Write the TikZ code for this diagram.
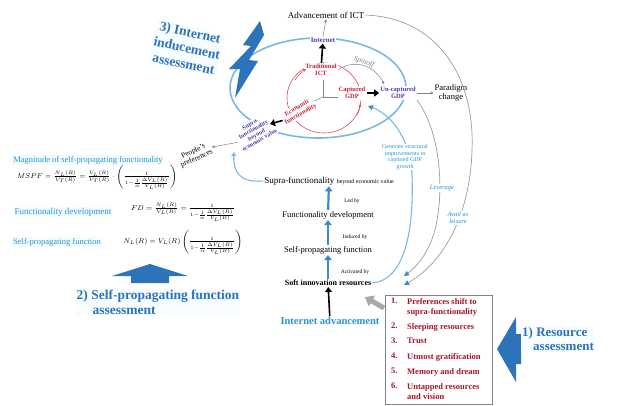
\documentclass[tikz,border=0pt]{standalone}
\usepackage{fontspec}
\setmainfont{Liberation Serif}
\usetikzlibrary{arrows.meta,calc}
\definecolor{purp}{RGB}{75,60,170}
\definecolor{redtxt}{RGB}{205,30,50}
\definecolor{darkred}{RGB}{165,20,40}
\definecolor{lblue}{RGB}{35,150,215}
\definecolor{arrblue}{RGB}{60,140,205}
\definecolor{headblue}{RGB}{45,115,185}
\definecolor{ringblue}{RGB}{120,185,228}
\definecolor{graycol}{RGB}{130,130,130}
\begin{document}
\begin{tikzpicture}[x=1pt,y=-1pt,
  every node/.style={inner sep=1pt},
  lbl/.style={font=\fontsize{8.5}{9.5}\selectfont},
  tiny/.style={font=\fontsize{5.5}{6.5}\selectfont},
  purpl/.style={text=purp,font=\fontsize{6.5}{7}\selectfont\bfseries,fill=white,align=center},
  redl/.style={text=redtxt,font=\fontsize{6.5}{7}\selectfont\bfseries,fill=white,align=center},
  bluel/.style={text=lblue,font=\fontsize{6}{6.5}\selectfont,fill=white,align=center},
  leftl/.style={text=lblue,font=\fontsize{8.5}{9}\selectfont,fill=cyan!4},
  formula/.style={font=\fontsize{7.3}{8}\selectfont},
  biglbl/.style={text=headblue,font=\fontsize{13}{14}\selectfont\bfseries,fill=cyan!3,align=left},
  resitem/.style={text=darkred,font=\fontsize{8.5}{10}\selectfont\bfseries,align=left,anchor=north west,inner sep=0pt},
  upblue/.style={draw=arrblue,line width=2.2pt,-{Triangle[length=5pt,width=7.5pt]}},
  blackbold/.style={draw=black,line width=1.6pt,-{Triangle[length=5pt,width=7pt]}},
  thingray/.style={draw=graycol,line width=0.5pt,-{Stealth[length=3pt,width=3pt]}},
  arcgray/.style={draw=graycol!80,line width=0.7pt},
  arcblue/.style={draw=ringblue,line width=1.1pt},
  redring/.style={draw=redtxt!80,line width=0.6pt},
  bluetip/.style={-{Triangle[length=5pt,width=5pt,color=arrblue]}},
  blocksh/.style={fill=headblue,draw=none}
]
\useasboundingbox (0,0) rectangle (619,405);

% ---------- outer ring (drawn first, labels sit on top) ----------
\draw[ringblue,line width=1.6pt] (318,88) ellipse [x radius=88, y radius=50];

\node[lbl,font=\fontsize{9}{10}\selectfont] (adv) at (326,15) {Advancement of ICT};
\node[lbl,align=center] (para) at (451,93) {Paradigm\\change};

% red cycle of the captured economy
\draw[redring] (324,98) ellipse [x radius=37, y radius=35];
\draw[graycol,line width=0.5pt] (323,80) -- (323,97) -- (341,97);
\draw[graycol,line width=0.5pt] (323,97) -- (308,104);

\node[purpl,font=\fontsize{7}{7.5}\selectfont\bfseries] (inet) at (323,40) {Internet};
\node[redl] (ict) at (321,70) {Traditional\\ICT};
\node[redl] (cap) at (352,93) {Captured\\GDP};
\node[redl,rotate=30] (econ) at (299,111) {Economic\\functionality};
\node[purpl] (uncap) at (398,93) {Un-captured\\GDP};
\node[purpl,rotate=30,font=\fontsize{6}{6.2}\selectfont\bfseries] (suprarot) at (255,132) {Supra-\\functionality\\beyond\\economic value};
\node[lbl,rotate=25,align=center,font=\fontsize{7.5}{8}\selectfont] (people) at (195,155) {People's\\preferences};
\node[text=graycol,rotate=-20,font=\fontsize{7.5}{8}\selectfont\itshape] (spin) at (364,62) {Spinoff};

% red arrowheads on the cycle
\draw[redring,-{Stealth[length=3pt,width=3pt]}] (295,80) .. controls (299,74) and (303,71) .. (306,69);
\draw[redring,-{Stealth[length=3pt,width=3pt]}] (357,115) .. controls (359,111) and (360,107) .. (360,104);

% arrows around the core
\coordinate (suprain) at (270,124);
\draw[blackbold] (ict) -- (inet);
\draw[blackbold] (cap.east) -- (uncap.west);
\draw[blackbold] (econ.west) -- (suprain);
\draw[thingray] (inet.north) -- (adv.south);
\draw[thingray] (uncap.east) -- (para.west);
\draw[thingray] (suprarot.west) -- (people.east);
\coordinate (spinend) at (384,84);
\draw[thingray] (ict.east) .. controls (355,58) and (375,66) .. (spinend);

% ---------- central chain ----------
\node (supra) at (329,181) {{\fontsize{9}{10}\selectfont Supra-functionality} {\fontsize{6}{7}\selectfont beyond economic value}};
\node[lbl] (func) at (328,215) {Functionality development};
\node[lbl] (self) at (328,250) {Self-propagating function};
\node[lbl,font=\fontsize{8}{9}\selectfont\bfseries] (soft) at (328,283) {Soft innovation resources};
\node[text=lblue,font=\fontsize{10.5}{11}\selectfont\bfseries] (iadv) at (330,321) {Internet advancement};

\draw[upblue] (func) -- (supra);
\draw[upblue] (self) -- (func);
\draw[upblue] (soft) -- (self);
\draw[blackbold] (iadv) -- (soft);
\node[tiny] (ledby) at (352,201) {Led by};
\node[tiny] (indby) at (355,237) {Induced by};
\node[tiny] (actby) at (355,272) {Activated by};

% feedback from supra-functionality to the people's side
\coordinate (supraend) at (234,152);
\draw[arcblue,-{Triangle[length=4pt,width=5pt]}] (supra.west) .. controls (240,183) and (233,172) .. (supraend);

% ---------- right arcs back to the resources ----------
\coordinate (capin) at (368,106);
\draw[arcblue,bluetip] (soft.east) .. controls (405,280) and (414,230) .. (412,175) .. controls (410,135) and (388,113) .. (capin);
\node[bluel] (gen) at (405,157) {Generate structural\\improvements in\\captured GDP\\growth};

\coordinate (lev) at (404,276);
\coordinate (leis) at (404,285);
\draw[arcgray,bluetip] (uncap.south east) .. controls (440,130) and (445,190) .. (435,230) .. controls (428,255) and (415,268) .. (lev);
\draw[arcgray,bluetip] (adv.east) .. controls (440,18) and (475,80) .. (472,150) .. controls (470,220) and (440,265) .. (leis);
\node[bluel,font=\fontsize{6.5}{7}\selectfont\itshape] (levlbl) at (442,188) {Leverage};
\node[bluel,font=\fontsize{6.5}{7}\selectfont\itshape] (leislbl) at (458,218) {Avail as\\leisure};

% ---------- resource list ----------
\node[draw=graycol,line width=1.2pt,minimum width=107pt,minimum height=109pt,anchor=north west] (res) at (385,295) {};
\node[resitem] (n1) at (391,298) {1.};
\node[resitem] (r1) at (407,298) {Preferences shift to\\supra-functionality};
\node[resitem] (n2) at (391,323) {2.};
\node[resitem] (r2) at (407,323) {Sleeping resources};
\node[resitem] (n3) at (391,338) {3.};
\node[resitem] (r3) at (407,338) {Trust};
\node[resitem] (n4) at (391,353) {4.};
\node[resitem] (r4) at (407,353) {Utmost gratification};
\node[resitem] (n5) at (391,368) {5.};
\node[resitem] (r5) at (407,368) {Memory and dream};
\node[resitem] (n6) at (391,383) {6.};
\node[resitem] (r6) at (407,383) {Untapped resources\\and vision};

\coordinate (grayfrom) at (384,308);
\coordinate (grayto) at (365,297);
\draw[graycol!70,line width=5pt,-{Triangle[length=8pt,width=12pt]}] (grayfrom) -- (grayto);

% ---------- assessment markers ----------
\fill[blocksh] (497,349) -- (516,317) -- (516,334) -- (521,334) -- (521,364) -- (516,364) -- (516,382) -- cycle;
\node[biglbl,anchor=west] (ra) at (521,339) {1) Resource\\\hspace{11pt}assessment};

\fill[blocksh] (150,264) -- (188,276) -- (169,276) -- (169,283) -- (131,283) -- (131,276) -- (112,276) -- cycle;
\node[biglbl,font=\fontsize{13.5}{15}\selectfont\bfseries] (sa) at (158,302) {2) Self-propagating function\\\hspace{16pt}assessment};

\fill[blocksh] (260,21) -- (243,45) -- (251,46) -- (229,69) -- (240,69) -- (235,98) -- (258,61) -- (249,60) -- (264,35) -- cycle;
\node[biglbl,rotate=-12,align=center,font=\fontsize{13.5}{16}\selectfont\bfseries] (ia) at (187,48) {3) Internet\\inducement\\assessment};

% ---------- formulas ----------
\node[leftl] (mag) at (88,160) {Magnitude of self-propagating functionality};
\node[formula] (mspf) at (97,177) {$MSPF=\frac{N_L(R)}{V_T(R)}=\frac{V_L(R)}{V_T(R)}\cdot\left(\frac{1}{1-\frac{1}{\alpha}\frac{\Delta V_L(R)}{V_L(R)}}\right)$};
\node[leftl,font=\fontsize{9}{10}\selectfont] (fdl) at (63,212) {Functionality development};
\node[formula] (fd) at (183,212) {$FD=\frac{N_L(R)}{V_L(R)}=\frac{1}{1-\frac{1}{\alpha}\frac{\Delta V_L(R)}{V_L(R)}}$};
\node[leftl] (spl) at (57,242) {Self-propagating function};
\node[formula] (nl) at (183,242) {$N_L(R)=V_L(R)\left(\frac{1}{1-\frac{1}{\alpha}\frac{\Delta V_L(R)}{V_L(R)}}\right)$};
\end{tikzpicture}
\end{document}
